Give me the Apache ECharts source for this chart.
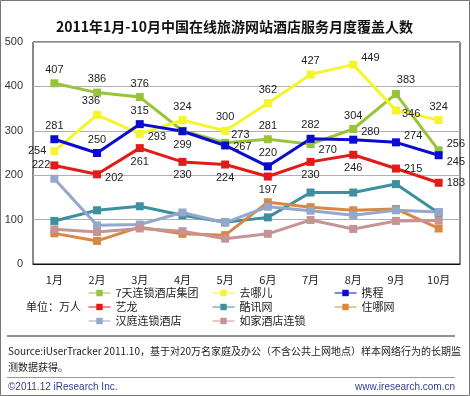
<!DOCTYPE html>
<html lang="zh">
  <head>
    <meta charset="UTF-8" />
    <title>2011年1月-10月中国在线旅游网站酒店服务月度覆盖人数</title>
    <script src="https://cdn.jsdelivr.net/npm/echarts@6/dist/echarts.min.js"></script>
    <style>
      html, body { margin: 0; padding: 0; background: #fff; }
      #main { width: 470px; height: 396px; }
    </style>
  </head>
  <body>
    <div id="main"></div>
    <script>
      // 月份
      var months = ["1月", "2月", "3月", "4月", "5月", "6月", "7月", "8月", "9月", "10月"];
      var yTicks = [0, 100, 200, 300, 400, 500];

      // 各网站月度覆盖人数（万人）
      var qitian = [407, 386, 376, 300, 273, 281, 270, 304, 383, 256];
      var qunar = [254, 336, 293, 324, 300, 362, 427, 449, 346, 324];
      var ctrip = [281, 250, 315, 299, 267, 220, 282, 280, 274, 245];
      var elong = [222, 202, 261, 230, 224, 197, 230, 246, 215, 183];
      var kuxun = [97, 121, 130, 110, 94, 105, 161, 161, 180, 115];
      var zhuna = [69, 52, 83, 68, 65, 139, 128, 121, 124, 80];
      var hanting = [192, 87, 89, 116, 93, 129, 120, 110, 121, 117];
      var rujia = [78, 72, 80, 74, 57, 68, 99, 79, 97, 98];

      // 数据标签位置
      var qitianPos = ["top", "top", "top", null, "right", "top", "right", "top", "top", "right"];
      var qunarPos = ["left", "top", "right", "top", "top", "top", "top", "right", "right", "top"];
      var ctripPos = ["top", "top", "top", "bottom", "right", "top", "top", "right", "right", "right"];
      var elongPos = ["left", "right", "bottom", "bottom", "bottom", "bottom", "bottom", "bottom", "right", "right"];

      var fontCN = '"Noto Sans CJK SC", "Noto Sans", sans-serif';
      var fontNum = '"Liberation Sans", "Noto Sans", sans-serif';

      function withLabels(values, pos, offsets) {
        return values.map(function (v, i) {
          if (!pos[i]) return { value: v, label: { show: false } };
          var item = { value: v, label: { show: true, position: pos[i] } };
          if (offsets && offsets[i]) item.label.offset = offsets[i];
          return item;
        });
      }

      function makeSeries(name, color, data, width) {
        return {
          name: name,
          type: "line",
          data: data,
          symbol: "rect",
          symbolSize: 8,
          color: color,
          lineStyle: { width: width || 3, color: color },
          itemStyle: { color: color },
          label: {
            show: false,
            fontSize: 11,
            color: "#222",
            fontFamily: fontNum,
            distance: 4
          },
          emphasis: { disabled: true },
          animation: false
        };
      }

      var series = [
        makeSeries("7天连锁酒店集团", "#99c43a", withLabels(qitian, qitianPos,
          [null, null, null, null, [-2, -8], null, [0, 6], null, [10, 0], [0, -6]])),
        makeSeries("去哪儿", "#f5f52a", withLabels(qunar, qunarPos,
          [null, [-6, 0], [0, 3], null, null, null, null, [0, -7], [-2, 4], null])),
        makeSeries("携程", "#0a0ad0", withLabels(ctrip, ctripPos,
          [null, null, null, null, [0, 2], null, null, [0, -8], [0, -6], [0, 7]])),
        makeSeries("艺龙", "#e31a1a", withLabels(elong, elongPos,
          [[4, 0], [0, 4], null, null, null, null, null, null, null, null])),
        makeSeries("酷讯网", "#3d90a0", kuxun),
        makeSeries("住哪网", "#d88842", zhuna),
        makeSeries("汉庭连锁酒店", "#93a8cb", hanting),
        makeSeries("如家酒店连锁", "#c79496", rujia)
      ];

      function legendCol(left, names) {
        return {
          orient: "vertical",
          left: left,
          top: 286,
          itemWidth: 22,
          itemHeight: 8,
          itemGap: 0,
          padding: 0,
          data: names,
          lineStyle: { width: 1 },
          textStyle: { fontSize: 11, color: "#222", fontFamily: fontCN, lineHeight: 14 },
          selectedMode: false
        };
      }

      var chart = echarts.init(document.getElementById("main"));
      chart.setOption({
        backgroundColor: "#fff",
        animation: false,
        title: {
          text: "2011年1月-10月中国在线旅游网站酒店服务月度覆盖人数",
          left: 56,
          top: 20,
          padding: 0,
          textStyle: { fontSize: 14, fontWeight: "bold", color: "#111", fontFamily: fontCN }
        },
        legend: [
          legendCol(88, ["7天连锁酒店集团", "艺龙", "汉庭连锁酒店"]),
          legendCol(212, ["去哪儿", "酷讯网", "如家酒店连锁"]),
          legendCol(334, ["携程", "住哪网"])
        ],
        grid: {
          left: 33,
          right: 10,
          top: 42,
          bottom: 132,
          show: true,
          borderColor: "#111",
          borderWidth: 1
        },
        xAxis: {
          type: "category",
          data: months,
          boundaryGap: true,
          axisLine: { lineStyle: { color: "#111" } },
          axisTick: { show: false },
          axisLabel: { fontSize: 11, color: "#222", fontFamily: fontCN, margin: 10 }
        },
        yAxis: {
          type: "value",
          min: yTicks[0],
          max: yTicks[yTicks.length - 1],
          interval: 100,
          axisLine: { show: false },
          axisTick: { show: false },
          axisLabel: { fontSize: 11, color: "#333", fontFamily: fontNum, margin: 10 },
          splitLine: { lineStyle: { color: "#b0b0b0", width: 1 } }
        },
        series: series,
        graphic: [
          {
            type: "rect",
            shape: { x: 0.5, y: 0.5, width: 469, height: 395 },
            style: { fill: "none", stroke: "#777", lineWidth: 1 },
            silent: true
          },
          {
            type: "text",
            left: 26,
            top: 301,
            style: { text: "单位：万人", fontSize: 11, fill: "#222", fontFamily: fontCN }
          },
          {
            type: "line",
            shape: { x1: 7, y1: 336, x2: 455, y2: 336 },
            style: { stroke: "#222", lineWidth: 1 }
          },
          {
            type: "text",
            left: 8,
            top: 343,
            style: {
              text: "Source:iUserTracker 2011.10，基于对20万名家庭及办公（不含公共上网地点）样本网络行为的长期监\n测数据获得。",
              fontSize: 10,
              lineHeight: 16,
              fill: "#222",
              fontFamily: fontCN
            }
          },
          {
            type: "line",
            shape: { x1: 7, y1: 377.5, x2: 455, y2: 377.5 },
            style: { stroke: "#999", lineWidth: 1 }
          },
          {
            type: "text",
            left: 8,
            top: 382,
            style: { text: "©2011.12 iResearch Inc.", fontSize: 10, fill: "#3a3a90", fontFamily: fontNum }
          },
          {
            type: "text",
            right: 15,
            top: 382,
            style: { text: "www.iresearch.com.cn", fontSize: 10, fill: "#3a3a90", fontFamily: fontNum }
          }
        ]
      });
    </script>
  </body>
</html>
